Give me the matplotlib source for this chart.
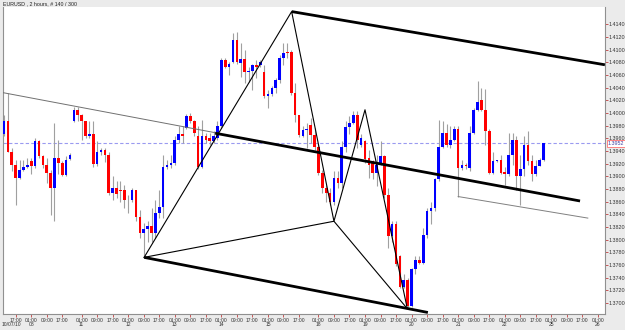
import matplotlib
matplotlib.use("Agg")
import matplotlib.pyplot as plt
import matplotlib.transforms as mtransforms

plt.rcParams["font.family"] = ["Liberation Sans", "DejaVu Sans"]

# 2-hour EURUSD bars
opens = [1.3967, 1.3988, 1.3939, 1.3918, 1.3897, 1.3910, 1.3915, 1.3924, 1.3916, 1.3955,
         1.3932, 1.3918, 1.3905, 1.3882, 1.3929, 1.3921, 1.3902, 1.3927, 1.3987, 1.4005,
         1.3997, 1.3987, 1.3964, 1.3967, 1.3919, 1.3939, 1.3942, 1.3934, 1.3874, 1.3882,
         1.3879, 1.3879, 1.3863, 1.3862, 1.3879, 1.3835, 1.3811, 1.3817, 1.3821, 1.3811,
         1.3842, 1.3851, 1.3914, 1.3918, 1.3921, 1.3958, 1.3966, 1.3976, 1.3995, 1.3987,
         1.3963, 1.3914, 1.3963, 1.3960, 1.3955, 1.3960, 1.3979, 1.4084, 1.4073, 1.4081,
         1.4115, 1.4079, 1.4085, 1.4064, 1.4066, 1.4076, 1.4076, 1.4065, 1.4026, 1.4030,
         1.4039, 1.4052, 1.4086, 1.4096, 1.4096, 1.4031, 1.3997, 1.3964, 1.3973, 1.3981,
         1.3965, 1.3947, 1.3905, 1.3881, 1.3873, 1.3860, 1.3897, 1.3889, 1.3947, 1.3978,
         1.3984, 1.3997, 1.3950, 1.3956, 1.3929, 1.3924, 1.3905, 1.3921, 1.3932, 1.3871,
         1.3805, 1.3824, 1.3774, 1.3726, 1.3737, 1.3695, 1.3753, 1.3768, 1.3763, 1.3808,
         1.3845, 1.3850, 1.3895, 1.3947, 1.3968, 1.3950, 1.3958, 1.3974, 1.3913, 1.3918,
         1.3913, 1.3968, 1.4005, 1.4021, 1.4005, 1.3971, 1.3905, 1.3924, 1.3925, 1.3906,
         1.3904, 1.3934, 1.3958, 1.3900, 1.3912, 1.3949, 1.3924, 1.3903, 1.3917, 1.3926]
highs = [1.3996, 1.4032, 1.3945, 1.3926, 1.3926, 1.3926, 1.3929, 1.3929, 1.3960, 1.3958,
         1.3934, 1.3929, 1.3910, 1.3984, 1.3958, 1.3924, 1.3932, 1.3937, 1.4010, 1.4009,
         1.3998, 1.3987, 1.3987, 1.3987, 1.3955, 1.3945, 1.3945, 1.3939, 1.3900, 1.3892,
         1.3892, 1.3887, 1.3871, 1.3882, 1.3879, 1.3847, 1.3826, 1.3829, 1.3850, 1.3863,
         1.3879, 1.3934, 1.3926, 1.3934, 1.3963, 1.3979, 1.3979, 1.3998, 1.4000, 1.3989,
         1.3979, 1.3989, 1.3968, 1.3968, 1.3971, 1.3987, 1.4087, 1.4087, 1.4081, 1.4126,
         1.4128, 1.4110, 1.4099, 1.4073, 1.4078, 1.4084, 1.4084, 1.4076, 1.4036, 1.4042,
         1.4055, 1.4092, 1.4111, 1.4110, 1.4099, 1.4047, 1.3997, 1.3979, 1.3984, 1.3992,
         1.3976, 1.3949, 1.3910, 1.3886, 1.3882, 1.3908, 1.3908, 1.3955, 1.3987, 1.3995,
         1.4003, 1.4003, 1.3966, 1.3958, 1.3942, 1.3926, 1.3934, 1.3955, 1.3934, 1.3882,
         1.3829, 1.3829, 1.3776, 1.3745, 1.3739, 1.3755, 1.3774, 1.3774, 1.3818, 1.3850,
         1.3860, 1.3897, 1.3989, 1.3987, 1.3982, 1.3979, 1.3979, 1.3979, 1.3926, 1.3921,
         1.3979, 1.4008, 1.4051, 1.4039, 1.4037, 1.3974, 1.3939, 1.3926, 1.3934, 1.3914,
         1.3968, 1.3968, 1.3963, 1.3934, 1.3963, 1.3971, 1.3934, 1.3926, 1.3929, 1.3953]
lows = [1.3963, 1.3938, 1.3908, 1.3855, 1.3895, 1.3908, 1.3913, 1.3903, 1.3913, 1.3929,
        1.3913, 1.3889, 1.3839, 1.3829, 1.3903, 1.3900, 1.3900, 1.3926, 1.3986, 1.3987,
        1.3958, 1.3960, 1.3960, 1.3914, 1.3917, 1.3934, 1.3923, 1.3871, 1.3863, 1.3865,
        1.3860, 1.3850, 1.3842, 1.3860, 1.3829, 1.3803, 1.3774, 1.3797, 1.3797, 1.3803,
        1.3834, 1.3834, 1.3912, 1.3913, 1.3918, 1.3953, 1.3953, 1.3974, 1.3984, 1.3963,
        1.3912, 1.3913, 1.3953, 1.3950, 1.3953, 1.3958, 1.3976, 1.4071, 1.4060, 1.4079,
        1.4078, 1.4057, 1.4047, 1.4049, 1.4036, 1.4055, 1.4073, 1.4023, 1.4007, 1.4026,
        1.4031, 1.4047, 1.4076, 1.4086, 1.4028, 1.3986, 1.3962, 1.3962, 1.3945, 1.3952,
        1.3942, 1.3902, 1.3873, 1.3860, 1.3855, 1.3855, 1.3882, 1.3882, 1.3939, 1.3966,
        1.3982, 1.3945, 1.3947, 1.3921, 1.3897, 1.3895, 1.3884, 1.3918, 1.3866, 1.3787,
        1.3797, 1.3758, 1.3724, 1.3724, 1.3694, 1.3694, 1.3745, 1.3761, 1.3761, 1.3803,
        1.3824, 1.3845, 1.3892, 1.3945, 1.3947, 1.3945, 1.3955, 1.3868, 1.3910, 1.3911,
        1.3908, 1.3966, 1.4003, 1.4003, 1.3950, 1.3903, 1.3903, 1.3923, 1.3903, 1.3887,
        1.3900, 1.3918, 1.3879, 1.3855, 1.3900, 1.3918, 1.3892, 1.3900, 1.3916, 1.3924]
closes = [1.3988, 1.3939, 1.3918, 1.3897, 1.3910, 1.3915, 1.3918, 1.3916, 1.3955, 1.3932,
          1.3918, 1.3905, 1.3882, 1.3929, 1.3921, 1.3902, 1.3926, 1.3934, 1.4005, 1.3997,
          1.3987, 1.3964, 1.3967, 1.3919, 1.3939, 1.3942, 1.3934, 1.3874, 1.3882, 1.3872,
          1.3877, 1.3862, 1.3862, 1.3879, 1.3835, 1.3811, 1.3817, 1.3821, 1.3811, 1.3842,
          1.3851, 1.3914, 1.3918, 1.3921, 1.3958, 1.3966, 1.3964, 1.3995, 1.3987, 1.3968,
          1.3914, 1.3963, 1.3958, 1.3955, 1.3963, 1.3979, 1.4084, 1.4073, 1.4078, 1.4115,
          1.4081, 1.4085, 1.4065, 1.4066, 1.4076, 1.4073, 1.4081, 1.4026, 1.4030, 1.4039,
          1.4052, 1.4086, 1.4094, 1.4094, 1.4031, 1.3997, 1.3965, 1.3973, 1.3975, 1.3965,
          1.3947, 1.3905, 1.3881, 1.3873, 1.3860, 1.3897, 1.3889, 1.3947, 1.3978, 1.3984,
          1.3997, 1.3958, 1.3960, 1.3928, 1.3918, 1.3905, 1.3918, 1.3932, 1.3871, 1.3805,
          1.3824, 1.3761, 1.3726, 1.3737, 1.3695, 1.3753, 1.3768, 1.3763, 1.3808, 1.3845,
          1.3850, 1.3895, 1.3947, 1.3968, 1.3950, 1.3958, 1.3974, 1.3913, 1.3918, 1.3917,
          1.3968, 1.4005, 1.4018, 1.4005, 1.3971, 1.3905, 1.3924, 1.3925, 1.3905, 1.3904,
          1.3934, 1.3958, 1.3900, 1.3912, 1.3949, 1.3924, 1.3903, 1.3917, 1.3926, 1.3952]

last_price = 1.3952

# time axis: bar index of each label, time text, day text
tick_bars = [3, 7, 11, 15, 20, 24, 28, 32, 36, 40, 44, 48, 52, 56, 60, 64, 68, 72, 76,
             81, 85, 89, 93, 97, 101, 105, 109, 113, 117, 121, 125, 129, 133, 137,
             141, 145, 149, 153]
tick_times = ["17:00", "01:00", "09:00", "17:00"] + ["01:00", "09:00", "17:00"] * 11 + ["01:00"]
day_bars = [7, 20, 32, 44, 56, 68, 81, 93, 105, 117, 129, 141, 153]
day_labels = ["08", "11", "12", "13", "14", "15", "18", "19", "20", "21", "22", "25", "26"]
start_date = "10/07/10"

# drawn objects, (bar index, price)
gray_line = ([-0.26, 55.1], [1.4032, 1.3968])
median_line = ([54.4, 148.4], [1.3968, 1.3861])
upper_line = ([74.1, 154.8], [1.4160, 1.4076])
lower_line = ([36.1, 109.2], [1.3772, 1.3685])
lower_thin = ([117.0, 150.4], [1.3868, 1.3834])
pattern_x = [36.1, 74.1, 85.0, 93.0, 103.9]
pattern_y = [1.3772, 1.4160, 1.3829, 1.4005, 1.3691]

fig = plt.figure(figsize=(6.25, 3.3), dpi=100, facecolor="#ebebeb")
ax = fig.add_axes([3 / 625, 1 - 314 / 330, 601.5 / 625, 307.5 / 330])
ax.set_facecolor("white")

n = len(opens)
for i in range(n):
    o, h, l, c = opens[i], highs[i], lows[i], closes[i]
    col = "#0000ff" if c >= o else "#ff0000"
    ax.vlines(i, l, h, color="#a0a0a0", lw=0.8, zorder=2)
    body = max(abs(c - o), 0.00008)
    ax.bar(i, body, bottom=min(o, c), width=0.68, color=col, lw=0, zorder=3)

# current price line
ax.axhline(last_price, color="#9a9af0", lw=0.8, ls=(0, (3, 2)), zorder=1)

# trend lines and pattern
ax.plot(*gray_line, color="#707070", lw=0.7, zorder=4)
ax.plot(*lower_thin, color="#808080", lw=0.7, zorder=4)
for line in (median_line, upper_line, lower_line):
    ax.plot(*line, color="black", lw=2.0, zorder=5, solid_capstyle="butt")
ax.plot(pattern_x, pattern_y, color="black", lw=0.8, zorder=5)
ax.plot([pattern_x[0], pattern_x[2], pattern_x[4]],
        [pattern_y[0], pattern_y[2], pattern_y[4]], color="black", lw=0.8, zorder=5)

ax.set_xlim(-0.26, 154.7)
ax.set_ylim(1.36826, 1.41680)

# price axis on the right
ax.yaxis.tick_right()
yt = [1.3700 + 0.002 * k for k in range(23)]
ax.set_yticks(yt)
ax.set_yticklabels([f"{v:.4f}" for v in yt])
ax.tick_params(axis="y", length=2, width=0.6, color="#c04040", pad=0.8,
               labelsize=3.9, labelcolor="#333333")
ax.annotate(f"{last_price:.4f}", xy=(1, last_price), xycoords=("axes fraction", "data"),
            xytext=(2.2, 0), textcoords="offset points", va="center", ha="left",
            fontsize=3.9, color="#4040a0", zorder=10, annotation_clip=False,
            bbox=dict(boxstyle="square,pad=0.15", fc="white", ec="#ff7070", lw=0.6))

# time axis
ax.set_xticks(tick_bars)
ax.set_xticklabels(tick_times)
ax.tick_params(axis="x", length=2, width=0.6, color="#c04040", pad=0.8,
               labelsize=3.6, labelcolor="#333333")
day_tr = mtransforms.blended_transform_factory(ax.transData, fig.transFigure)
for b, d in zip(day_bars, day_labels):
    ax.text(b, 1 - 325 / 330, d, transform=day_tr, fontsize=3.6, color="#333333",
            ha="center", va="center", clip_on=False)
fig.text(2 / 625, 1 - 325 / 330, start_date, fontsize=3.6, color="#333333",
         ha="left", va="center")

for side in ("left", "bottom", "right"):
    ax.spines[side].set_color("#909090")
    ax.spines[side].set_linewidth(0.8)
ax.spines["top"].set_visible(False)

fig.text(3 / 625, 1 - 4 / 330, "EURUSD , 2 hours, # 140 / 300", fontsize=3.8,
         color="#222222", va="center", ha="left")

plt.savefig("out.png", dpi=100, facecolor=fig.get_facecolor())
